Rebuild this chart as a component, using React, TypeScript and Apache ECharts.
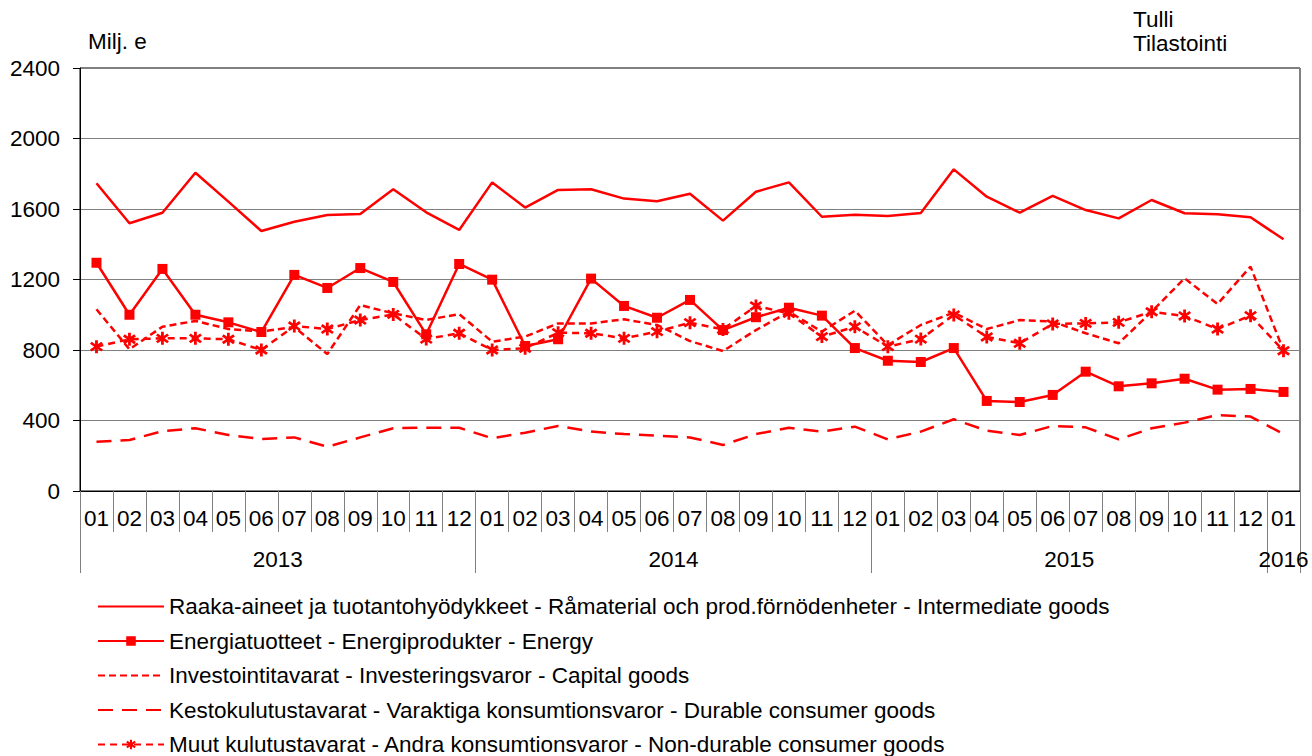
import React, { useEffect, useRef } from "react";
import * as echarts from "echarts";

const monthLabels = [
  "01","02","03","04","05","06","07","08","09","10","11","12",
  "01","02","03","04","05","06","07","08","09","10","11","12",
  "01","02","03","04","05","06","07","08","09","10","11","12",
  "01",
];
const years = ["2013", "2014", "2015", "2016"];
const monthsPerYear = [12, 12, 12, 1];

const seriesNames = [
  "Raaka-aineet ja tuotantohyödykkeet - Råmaterial och prod.förnödenheter - Intermediate goods",
  "Energiatuotteet - Energiprodukter - Energy",
  "Investointitavarat - Investeringsvaror - Capital goods",
  "Kestokulutustavarat - Varaktiga konsumtionsvaror - Durable consumer goods",
  "Muut kulutustavarat - Andra konsumtionsvaror - Non-durable consumer goods",
];

const intermediate = [
  1746, 1519, 1579, 1806, 1642, 1475, 1528, 1566, 1572, 1712, 1581, 1481,
  1751, 1608, 1708, 1712, 1659, 1644, 1687, 1534, 1698, 1751, 1556, 1568,
  1560, 1577, 1825, 1670, 1579, 1674, 1594, 1547, 1651, 1576, 1570, 1553,
  1428,
];
const energy = [
  1295, 1000, 1260, 1000, 957, 902, 1226, 1152, 1265, 1186, 889, 1288,
  1199, 823, 861, 1205, 1050, 983, 1084, 913, 986, 1040, 995, 811,
  739, 732, 811, 511, 505, 545, 677, 594, 611, 637, 575, 579,
  562,
];
const capital = [
  1031, 804, 932, 965, 919, 905, 930, 777, 1055, 1008, 970, 1004,
  847, 876, 951, 951, 974, 942, 851, 794, 913, 1017, 904, 1023,
  828, 942, 1012, 919, 970, 961, 895, 838, 1017, 1207, 1061, 1273,
  796,
];
const durable = [
  280, 289, 340, 356, 318, 295, 304, 251, 304, 356, 359, 359,
  299, 331, 369, 337, 323, 314, 304, 261, 323, 359, 337, 365,
  293, 337, 407, 342, 318, 369, 361, 293, 356, 388, 431, 422,
  323,
];
const nonDurable = [
  819, 861, 866, 866, 861, 800, 936, 919, 970, 1002, 862, 895,
  800, 810, 898, 895, 866, 904, 955, 917, 1050, 1008, 876, 932,
  819, 862, 999, 874, 838, 948, 951, 957, 1017, 993, 919, 995,
  796,
];

const yTicks = { min: 0, max: 2400, interval: 400 };

const FONT = "'Liberation Sans', Arial, Helvetica, sans-serif";
const FS = 22.5;
const RED = "#ff0000";
const ASTERISK =
  "path://M4 0L6 0L6 10L4 10Z M1.6 1.2L9.6 7.2L8.4 8.8L0.4 2.8Z M0.4 7.2L8.4 1.2L9.6 2.8L1.6 8.8Z";

// Year axis built on half-month steps so that year names sit in the middle of their spans
function buildYearAxis() {
  const total = monthsPerYear.reduce((a, b) => a + b, 0);
  const data: string[] = new Array(total * 2 + 1).fill("");
  const tickIdx: number[] = [0];
  let start = 0;
  years.forEach((y, i) => {
    const span = monthsPerYear[i];
    data[start + span] = y;
    start += span * 2;
    tickIdx.push(start);
  });
  return { data, tickIdx };
}

export default function App() {
  const ref = useRef<HTMLDivElement>(null);
  useEffect(() => {
    if (!ref.current) return;
    const chart = echarts.init(ref.current, undefined, { renderer: "svg" });
    const yearAxis = buildYearAxis();
    const gridBox = { left: 80, right: 12, top: 68, bottom: 265 };
    const tickGray = "#808080";
    const lineSeries = (name: string, data: number[], extra: any) => ({
      name,
      type: "line",
      data,
      xAxisIndex: 0,
      yAxisIndex: 0,
      lineStyle: { color: RED, width: 2.5, ...(extra.lineStyle || {}) },
      itemStyle: { color: RED },
      symbol: extra.symbol || "none",
      symbolSize: extra.symbolSize || 0,
      showSymbol: !!extra.symbol,
      emphasis: { disabled: true },
      z: extra.z || 2,
    });
    const legendData = seriesNames.map((name, i) =>
      i === 1 || i === 4 ? { name } : { name, itemStyle: { opacity: 0 } }
    );
    chart.setOption({
      animation: false,
      textStyle: { fontFamily: FONT },
      grid: [
        { ...gridBox, show: true, borderColor: "#000", borderWidth: 1, backgroundColor: "transparent" },
        { ...gridBox, show: false },
      ],
      xAxis: [
        {
          type: "category",
          gridIndex: 0,
          data: monthLabels,
          boundaryGap: true,
          axisLine: { show: true, lineStyle: { color: "#000", width: 1 } },
          axisTick: { show: true, interval: 0, length: 41, lineStyle: { color: tickGray } },
          axisLabel: { interval: 0, margin: 16, fontSize: FS, color: "#000", fontFamily: FONT },
          splitLine: { show: false },
        },
        {
          type: "category",
          gridIndex: 1,
          data: yearAxis.data,
          boundaryGap: false,
          position: "bottom",
          axisLine: { show: false },
          axisTick: {
            show: true,
            length: 82,
            interval: (idx: number) => yearAxis.tickIdx.includes(idx),
            lineStyle: { color: tickGray },
          },
          axisLabel: { interval: 0, margin: 57, fontSize: FS, color: "#000", fontFamily: FONT },
          splitLine: { show: false },
        },
      ],
      yAxis: [
        {
          type: "value",
          gridIndex: 0,
          min: yTicks.min,
          max: yTicks.max,
          interval: yTicks.interval,
          axisLine: { show: true, lineStyle: { color: "#000", width: 1 } },
          axisTick: { show: true, length: 7, lineStyle: { color: "#000" } },
          axisLabel: {
            margin: 20,
            fontSize: FS,
            color: "#000",
            fontFamily: FONT,
            formatter: (v: number) => String(v),
          },
          splitLine: { show: true, lineStyle: { color: "#808080", width: 1 } },
        },
        { type: "value", gridIndex: 1, show: false, min: 0, max: 1 },
      ],
      legend: {
        orient: "vertical",
        left: 97,
        top: 595,
        height: 220,
        padding: 0,
        itemWidth: 66,
        itemHeight: 12,
        itemGap: 11.5,
        selectedMode: false,
        textStyle: { fontSize: FS, lineHeight: 22, color: "#000", fontFamily: FONT },
        data: legendData,
      },
      graphic: [
        {
          type: "text",
          left: 88,
          top: 30,
          style: { text: "Milj. e", font: `${FS}px ${FONT}`, fill: "#000" },
        },
        {
          type: "text",
          left: 1133,
          top: 8,
          style: { text: "Tulli", font: `${FS}px ${FONT}`, fill: "#000" },
        },
        {
          type: "text",
          left: 1133,
          top: 32,
          style: { text: "Tilastointi", font: `${FS}px ${FONT}`, fill: "#000" },
        },
      ],
      series: [
        lineSeries(seriesNames[0], intermediate, { lineStyle: { type: "solid" } }),
        lineSeries(seriesNames[1], energy, { symbol: "rect", symbolSize: 10, lineStyle: { type: "solid" }, z: 3 }),
        lineSeries(seriesNames[2], capital, { lineStyle: { type: [7, 4] } }),
        lineSeries(seriesNames[3], durable, { lineStyle: { type: [15, 9] } }),
        lineSeries(seriesNames[4], nonDurable, { symbol: ASTERISK, symbolSize: 13, lineStyle: { type: [7, 5] }, z: 3 }),
      ],
    });
    return () => chart.dispose();
  }, []);
  return (
    <div
      ref={ref}
      style={{ position: "fixed", left: 0, top: 0, width: 1312, height: 756, background: "#fff" }}
    />
  );
}
